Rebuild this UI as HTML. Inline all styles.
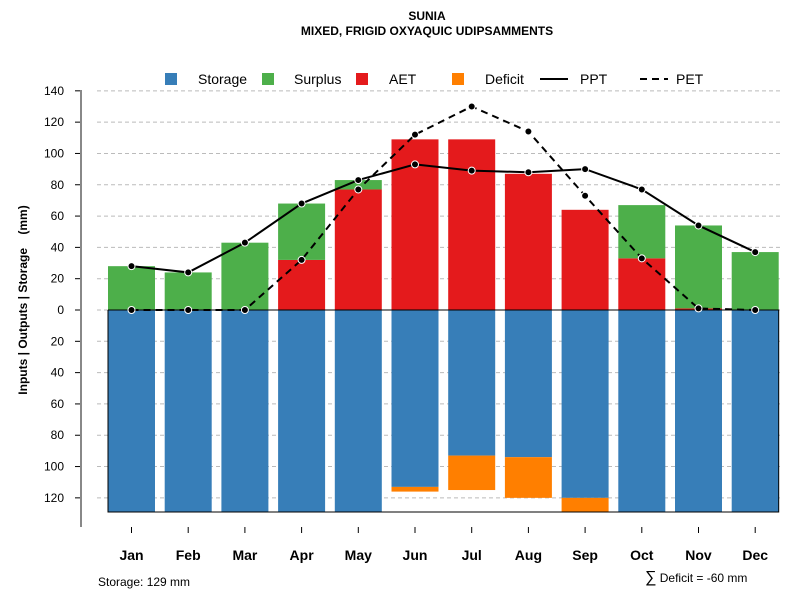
<!DOCTYPE html>
<html><head><meta charset="utf-8"><style>
body{margin:0;background:#fff;}
svg{font-family:"Liberation Sans",sans-serif;}
</style></head><body>
<svg id="c" width="800" height="600" xmlns="http://www.w3.org/2000/svg">
<text x="427" y="20" text-anchor="middle" font-size="12" font-weight="bold">SUNIA</text>
<text x="427" y="35" text-anchor="middle" font-size="12" font-weight="bold">MIXED, FRIGID OXYAQUIC UDIPSAMMENTS</text>
<text transform="translate(27,300) rotate(-90)" text-anchor="middle" font-size="12" font-weight="bold">Inputs | Outputs | Storage&#160;&#160;&#160;&#160;(mm)</text>
<g id="grid"></g><g id="bars"></g><g id="lines"></g><g id="axes"></g>
<g font-size="14">
<rect x="165" y="73" width="12" height="12" fill="#377eb8"/>
<text x="198" y="84">Storage</text>
<rect x="262" y="73" width="12" height="12" fill="#4daf4a"/>
<text x="294" y="84">Surplus</text>
<rect x="356" y="73" width="12" height="12" fill="#e41a1c"/>
<text x="389" y="84">AET</text>
<rect x="452" y="73" width="12" height="12" fill="#ff7f00"/>
<text x="485" y="84">Deficit</text>
<line x1="540" y1="79" x2="568" y2="79" stroke="#000" stroke-width="2"/>
<text x="580" y="84">PPT</text>
<line x1="640" y1="79" x2="668" y2="79" stroke="#000" stroke-width="2" stroke-dasharray="7,5"/>
<text x="676" y="84">PET</text>
</g>
<text x="98" y="586" font-size="12">Storage: 129 mm</text>
<text x="645" y="582" font-size="12"><tspan font-size="16">∑</tspan> Deficit = -60 mm</text>
</svg>
<script>
const months=["Jan","Feb","Mar","Apr","May","Jun","Jul","Aug","Sep","Oct","Nov","Dec"];
const ppt=[28,24,43,68,83,93,89,88,90,77,54,37];
const pet=[0,0,0,32,77,112,130,114,73,33,1,0];
const aet=[0,0,0,32,77,109,109,87,64,33,1,0];
const surplus=[28,24,43,36,6,0,0,0,0,34,53,37];
const storage=[129,129,129,129,129,113,93,94,120,129,129,129];
const deficit=[0,0,0,0,0,3,22,26,9,0,0,0];
const yTicks=[140,120,100,80,60,40,20,0,-20,-40,-60,-80,-100,-120];
const NS="http://www.w3.org/2000/svg";
const y0=310,k=1.5655;
const Y=v=>y0-v*k;
const X=i=>131.5+i*56.7;
const bw=47;
function mk(p,t,a){const e=document.createElementNS(NS,t);for(const q in a)e.setAttribute(q,a[q]);document.getElementById(p).appendChild(e);return e;}
yTicks.forEach(t=>{
 const g=mk("grid","line",{x1:97,x2:780,y1:Y(t),y2:Y(t),stroke:"#bbb","stroke-dasharray":"4,3"});
 
 
 const tk=mk("axes","line",{x1:75,x2:81,y1:Y(t),y2:Y(t),stroke:"#000"});
 
 
 const tl=mk("axes","text",{x:64,y:Y(t)+4,"text-anchor":"end","font-size":"12"});
 tl.textContent=Math.abs(t);
 
 
});
const ax=mk("axes","line",{x1:81,x2:81,y1:90,y2:527,stroke:"#888","stroke-width":2});


months.forEach((m,i)=>{
 const x=X(i);
 const s=mk("bars","rect",{x:x-bw/2,y:y0,width:bw,height:storage[i]*k,fill:"#377eb8"});
 
 
 if(deficit[i]>0){const d=mk("bars","rect",{x:x-bw/2,y:Y(-storage[i]),width:bw,height:deficit[i]*k,fill:"#ff7f00"});
 
 }
 if(aet[i]>0){const a=mk("bars","rect",{x:x-bw/2,y:Y(aet[i]),width:bw,height:aet[i]*k,fill:"#e41a1c"});
 
 }
 if(surplus[i]>0){const u=mk("bars","rect",{x:x-bw/2,y:Y(aet[i]+surplus[i]),width:bw,height:surplus[i]*k,fill:"#4daf4a"});
 
 }
 const t=mk("axes","line",{x1:x,x2:x,y1:527,y2:533,stroke:"#000"});
 
 
 const l=mk("axes","text",{x:x,y:560,"text-anchor":"middle","font-size":"14","font-weight":"bold"});
 l.textContent=m;
 
 
});
const box=mk("bars","path",{d:`M${X(0)-bw/2},${y0} V${Y(-129)} H${X(11)+bw/2} V${y0} H${X(0)-bw/2}`,fill:"none",stroke:"#000","stroke-width":1});


function series(arr,dash,name){
 const p=mk("lines","polyline",{points:arr.map((v,i)=>X(i)+","+Y(v)).join(" "),fill:"none",stroke:"#000","stroke-width":2,"stroke-dasharray":dash});
 
 
 arr.forEach((v,i)=>{const c=mk("lines","circle",{cx:X(i),cy:Y(v),r:3.5,fill:"#000",stroke:"#fff","stroke-width":1});
 
 });
}
series(pet,"7,5","pet");
series(ppt,"none","ppt");
</script>
</body></html>
